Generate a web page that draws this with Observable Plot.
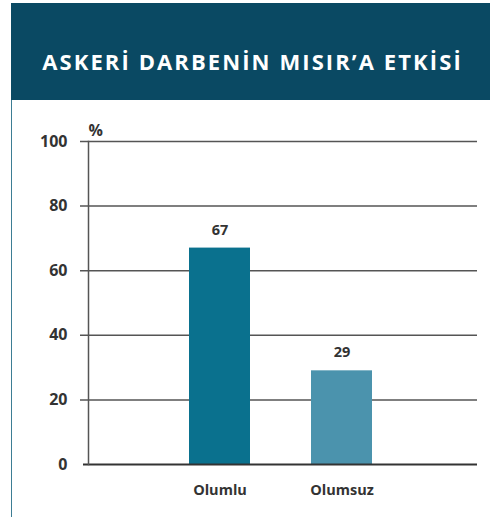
<!DOCTYPE html>
<html><head><meta charset="utf-8">
<script src="https://cdn.jsdelivr.net/npm/d3@7"></script>
<script src="https://cdn.jsdelivr.net/npm/@observablehq/plot@0.6"></script>
<style>
body{margin:0;background:#fff;}
#wrap{position:absolute;left:11px;top:3px;width:479px;height:514px;}
#banner{height:97px;background:#0a4963;color:#fff;font-family:"Open Sans",sans-serif;font-weight:700;font-size:22px;letter-spacing:2.1px;display:flex;align-items:center;justify-content:center;padding-left:4px;padding-top:18px;box-sizing:border-box;}
#body{border-left:1.5px solid #3d7d94;height:417px;position:relative;}
#chart{position:absolute;left:-12.5px;top:0;}
</style></head>
<body>
<div id="wrap"><div id="banner">ASKERİ DARBENİN MISIR’A ETKİSİ</div><div id="body"><div id="chart"></div></div></div>
<script>
const categories = ["Olumlu", "Olumsuz"];
const values = [67, 29];
const barColors = ["#0a718e", "#4b93ad"];
const yTicks = [0, 20, 40, 60, 80, 100];
const unitLabel = "%";

const data = categories.map((c, i) => ({cat: c, v: values[i], color: barColors[i]}));

const chart = Plot.plot({
  width: 490, height: 417,
  marginLeft: 88, marginRight: 13, marginTop: 41, marginBottom: 53,
  style: {fontFamily: "Open Sans, sans-serif", color: "#333"},
  x: {domain: categories, range: [128, 433], paddingInner: 0.5, paddingOuter: 0.5, axis: null},
  y: {domain: [0, 100], ticks: yTicks, axis: null},
  marks: [
    Plot.ruleY(yTicks.filter(d => d > 0), {stroke: "#555", strokeWidth: 1.5, insetLeft: -8}),
    Plot.barY(data, {x: "cat", y: "v", fill: "color"}),
    Plot.ruleY([0], {stroke: "#333", strokeWidth: 2, insetLeft: -5}),
    Plot.frame({anchor: "left", stroke: "#555", strokeWidth: 1.5}),
    Plot.axisY({ticks: yTicks, tickSize: 0, tickPadding: 21, label: null, fontSize: 16, fontWeight: 700, fill: "#333"}),
    Plot.axisX({tickSize: 0, tickPadding: 20, label: null, fontSize: 14.5, fontWeight: 700, fill: "#333"}),
    Plot.text(data, {x: "cat", y: "v", text: d => String(d.v), dy: -18, fontSize: 14.5, fontWeight: 700, fill: "#333"}),
    Plot.text([unitLabel], {frameAnchor: "top-left", dy: -17, fontSize: 16, fontWeight: 700, fill: "#333"})
  ]
});
document.getElementById("chart").appendChild(chart);
</script>
</body></html>
